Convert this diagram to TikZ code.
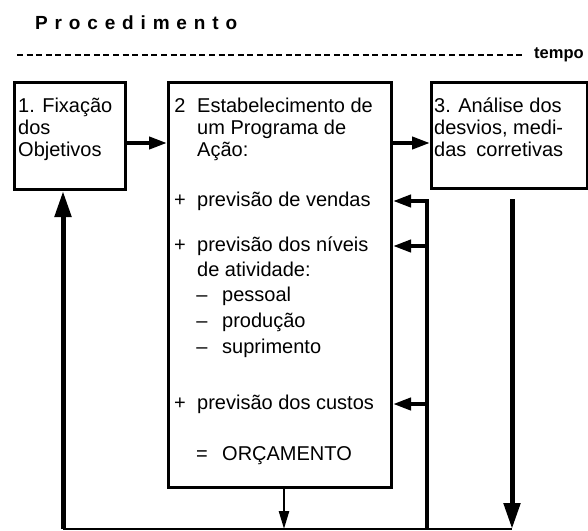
\documentclass[tikz,border=0pt]{standalone}
\usepackage{fontspec}
\setmainfont{Liberation Sans}
\usepackage{tikz}
\usetikzlibrary{arrows.meta}
\newfontfamily\titleFont[LetterSpace=36]{Liberation Sans}
\tikzstyle{diagram} = [x = 1pt, y = -1pt, every node/.style = {inner sep = 0pt}]
\tikzstyle{stepBox} = [draw, line width = 3pt, anchor = north west]
\tikzstyle{boxText} = [anchor = west, font = \fontsize{20}{22}\selectfont, text height = 14pt, text depth = 4pt]
\tikzstyle{markText} = [boxText, anchor = center]
\tikzstyle{flowArrow} = [line width = 4pt, -{Triangle[length = 18pt, width = 12pt]}]
\tikzstyle{loopArrow} = [line width = 5pt, -{Triangle[length = 26pt, width = 16pt]}]
\tikzstyle{budgetArrow} = [line width = 2.5pt, -{Triangle[length = 18pt, width = 10pt]}]
\tikzstyle{loopLine} = [line width = 1.4pt]
\tikzstyle{timeLine} = [line width = 2pt, dash pattern = on 6pt off 3.6pt]
\newcommand{\boxLine}[4]{\node[boxText] (#1) at (#2, #3) {#4};}
\newcommand{\programText}[3]{\node[boxText] (#1) at (197, #2) {#3};}
\newcommand{\programItem}[4]{\node[markText] (#1Mark) at (180, #3) {#2}; \node[boxText] (#1) at (197, #3) {#4};}
\newcommand{\programSubItem}[4]{\node[markText] (#1Mark) at (202, #3) {#2}; \node[boxText] (#1) at (222, #3) {#4};}
\begin{document}
\begin{tikzpicture}[diagram]
\useasboundingbox (0, 0) rectangle (588, 530);
% title and time axis
\node[anchor = west, font = \titleFont\bfseries\fontsize{19}{21}\selectfont] (titulo) at (35, 23) {Procedimento};
\node[anchor = west, inner xsep = 9pt, font = \bfseries\fontsize{16.5}{18}\selectfont] (tempo) at (525, 55) {tempo};
\coordinate (timeStart) at (17, 55);
\draw[timeLine] (timeStart) -- (tempo.west);
% the three steps
\node[stepBox, minimum width = 111pt, minimum height = 107pt] (fixacao) at (13, 81) {};
\node[stepBox, minimum width = 223pt, minimum height = 405pt] (programa) at (167, 81) {};
\node[stepBox, minimum width = 156pt, minimum height = 106pt] (analise) at (430, 81) {};
\boxLine{fixacaoA}{18}{107}{1. Fixação}
\boxLine{fixacaoB}{18}{129}{dos}
\boxLine{fixacaoC}{18}{151}{Objetivos}
\boxLine{analiseA}{434}{107}{3. Análise dos}
\boxLine{analiseB}{434}{129}{desvios, medi-}
\boxLine{analiseC}{434}{151}{das\enspace corretivas}
\programItem{estab}{2}{107}{Estabelecimento de}
\programText{estabB}{129}{um Programa de}
\programText{estabC}{151}{Ação:}
\programItem{vendas}{+}{201}{previsão de vendas}
\programItem{niveis}{+}{246}{previsão dos níveis}
\programText{atividade}{271}{de atividade:}
\programSubItem{pessoal}{--}{296}{pessoal}
\programSubItem{producao}{--}{322}{produção}
\programSubItem{suprimento}{--}{348}{suprimento}
\programItem{custos}{+}{404}{previsão dos custos}
\programSubItem{orcamento}{=}{455}{ORÇAMENTO}
% flow between steps
\coordinate (actionLevel) at (0, 143);
\draw[flowArrow] (fixacao.east |- actionLevel) -- (programa.west |- actionLevel);
\draw[flowArrow] (programa.east |- actionLevel) -- (analise.west |- actionLevel);
% feedback
\coordinate (feedBottom) at (427, 529);
\draw[flowArrow, line join = miter] (feedBottom) -- (feedBottom |- vendas) -- (programa.east |- vendas);
\draw[flowArrow] (feedBottom |- niveis) -- (programa.east |- niveis);
\draw[flowArrow] (feedBottom |- custos) -- (programa.east |- custos);
% loop back
\coordinate (loopLeft) at (63, 529);
\coordinate (loopRight) at (512, 529);
\coordinate (analiseOut) at (512, 199);
\coordinate (budgetOut) at (284, 529);
\draw[loopLine] (loopLeft) -- (loopRight);
\draw[loopArrow] (loopLeft) -- (fixacao.south -| loopLeft);
\draw[loopArrow] (analiseOut) -- (loopRight);
\draw[budgetArrow] (programa.south -| budgetOut) -- (budgetOut);
\end{tikzpicture}
\end{document}
